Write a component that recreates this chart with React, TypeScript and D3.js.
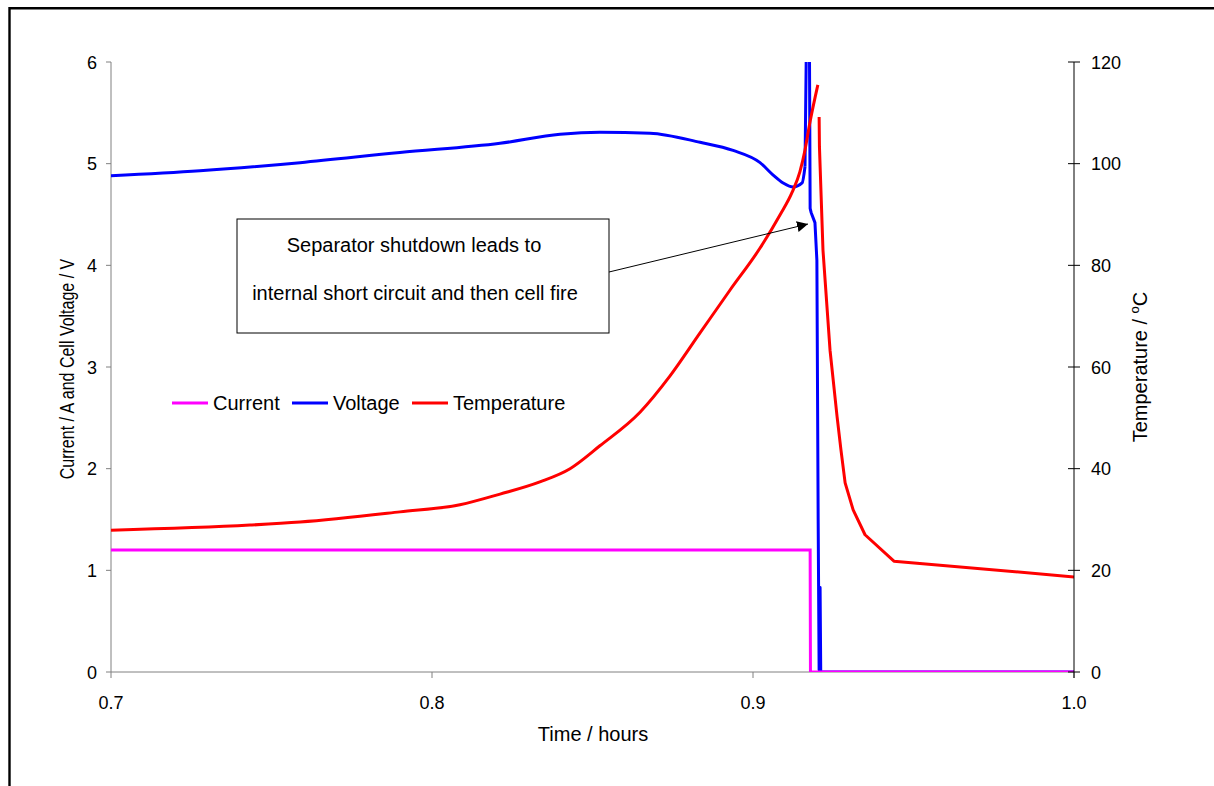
import React from "react";
import * as d3 from "d3";

const xTicks = [0.7, 0.8, 0.9, 1.0];
const yLeftTicks = [0, 1, 2, 3, 4, 5, 6];
const yRightTicks = [0, 20, 40, 60, 80, 100, 120];

const currentT = [0.7, 0.9178, 0.9179, 1.0];
const currentV = [1.2, 1.2, 0, 0];

const voltageT = [0.7, 0.7277, 0.7589, 0.79, 0.8212, 0.8399, 0.8523, 0.8679, 0.8835, 0.8938, 0.9022, 0.9062, 0.9094, 0.9125, 0.9153, 0.9162, 0.9171, 0.9174, 0.9178, 0.9181, 0.9193, 0.9199, 0.9203, 0.9206, 0.9208, 0.9209, 0.9211, 1.0];
const voltageV = [4.88, 4.93, 5.01, 5.11, 5.2, 5.29, 5.31, 5.3, 5.21, 5.13, 5.01, 4.89, 4.81, 4.77, 4.81, 4.97, 7.5, 7.5, 4.56, 4.52, 4.42, 4.05, 1.5, 0.02, 0.83, 0.83, 0.0, 0.0];

// null marks the break in the temperature record
const tempT = [0.7, 0.7433, 0.7589, 0.79, 0.8087, 0.8212, 0.8336, 0.843, 0.8523, 0.8648, 0.8741, 0.8835, 0.8928, 0.9022, 0.9084, 0.9122, 0.9146, 0.9162, 0.9177, 0.9202, 0.9203, 0.9206, 0.9207, 0.9218, 0.924, 0.9262, 0.9274, 0.9287, 0.9312, 0.9349, 0.9439, 1.0];
const tempV = [27.9, 28.9, 29.5, 31.5, 32.9, 35.0, 37.4, 40.0, 44.5, 51.1, 58.2, 66.7, 75.1, 83.4, 89.9, 94.4, 98.4, 102.7, 108.0, 115.5, null, 109.2, 103.3, 83.0, 63.3, 50.2, 43.7, 37.2, 31.9, 27.0, 21.8, 18.7];

const legendItems = ["Current", "Voltage", "Temperature"];
const colors = ["#FF00FF", "#0000FF", "#FF0000"];

const W = 1214;
const H = 786;
const plot = { left: 111, right: 1074, top: 62, bottom: 672 };
const FONT = "Liberation Sans, Arial, sans-serif";

export default function App() {
  const x = d3.scaleLinear().domain([0.7, 1.0]).range([plot.left, plot.right]);
  const yL = d3.scaleLinear().domain([0, 6]).range([plot.bottom, plot.top]);
  const yR = d3.scaleLinear().domain([0, 120]).range([plot.bottom, plot.top]);

  type P = [number, number | null];
  const lineLSmooth = d3
    .line<P>()
    .x((d) => x(d[0]))
    .y((d) => yL(d[1] as number))
    .curve(d3.curveMonotoneX);
  const lineLStraight = d3
    .line<P>()
    .x((d) => x(d[0]))
    .y((d) => yL(d[1] as number));
  const lineRSmooth = d3
    .line<P>()
    .x((d) => x(d[0]))
    .y((d) => yR(d[1] as number))
    .curve(d3.curveMonotoneX);
  const lineRStraight = d3
    .line<P>()
    .x((d) => x(d[0]))
    .y((d) => yR(d[1] as number));

  const cur: P[] = currentT.map((t, i) => [t, currentV[i]]);
  const volt: P[] = voltageT.map((t, i) => [t, voltageV[i]]);
  const temp: P[] = tempT.map((t, i) => [t, tempV[i]]);
  const gap = temp.findIndex((d) => d[1] === null);
  const tempRise = temp.slice(0, gap);
  const tempFall = temp.slice(gap + 1);

  const midY = (plot.top + plot.bottom) / 2;

  return (
    <svg
      width={W}
      height={H}
      style={{ position: "absolute", left: 0, top: 0, background: "#fff" }}
      fontFamily={FONT}
    >
      <rect x={0} y={0} width={W} height={H} fill="#fff" />
      <path d={`M9.5,${H + 5} L9.5,8.2 L${W + 5},8.2`} fill="none" stroke="#000" strokeWidth={2.4} />
      <defs>
        <clipPath id="plotclip">
          <rect x={plot.left} y={plot.top} width={plot.right - plot.left} height={plot.bottom - plot.top} />
        </clipPath>
      </defs>

      {/* left axis */}
      <line x1={plot.left} x2={plot.left} y1={plot.top} y2={plot.bottom} stroke="#808080" strokeWidth={1} />
      {yLeftTicks.map((v) => (
        <g key={"l" + v}>
          <line x1={plot.left - 5} x2={plot.left} y1={yL(v)} y2={yL(v)} stroke="#808080" />
          <text x={plot.left - 14} y={yL(v) + 6.5} textAnchor="end" fontSize={18}>
            {v}
          </text>
        </g>
      ))}

      {/* bottom axis */}
      <line x1={plot.left} x2={plot.right} y1={plot.bottom} y2={plot.bottom} stroke="#808080" strokeWidth={1} />
      {xTicks.map((v) => (
        <g key={"x" + v}>
          <line x1={x(v)} x2={x(v)} y1={plot.bottom} y2={plot.bottom + 6} stroke="#808080" />
          <text x={x(v)} y={709} textAnchor="middle" fontSize={18}>
            {v.toFixed(1)}
          </text>
        </g>
      ))}

      {/* series */}
      <g clipPath="url(#plotclip)">
        <path d={lineLSmooth(volt.slice(0, 16)) || ""} fill="none" stroke={colors[1]} strokeWidth={3} strokeLinejoin="round" />
        <path d={lineLStraight(volt.slice(15)) || ""} fill="none" stroke={colors[1]} strokeWidth={3} strokeLinejoin="round" />
        <path d={lineLStraight(cur) || ""} fill="none" stroke={colors[0]} strokeWidth={3} />
        <path d={lineRSmooth(tempRise) || ""} fill="none" stroke={colors[2]} strokeWidth={3} strokeLinejoin="round" />
        <path d={lineRStraight(tempFall) || ""} fill="none" stroke={colors[2]} strokeWidth={3} strokeLinejoin="round" />
      </g>

      {/* right axis */}
      <line x1={plot.right} x2={plot.right} y1={plot.top} y2={plot.bottom + 6} stroke="#000" strokeWidth={1} />
      {yRightTicks.map((v) => (
        <g key={"r" + v}>
          <line x1={plot.right - 6} x2={plot.right + 6} y1={yR(v)} y2={yR(v)} stroke="#000" />
          <text x={plot.right + 17} y={yR(v) + 6.5} textAnchor="start" fontSize={18}>
            {v}
          </text>
        </g>
      ))}

      {/* axis titles */}
      <text
        transform={`translate(74,${midY + 2}) rotate(-90) scale(1,1.3)`}
        textAnchor="middle"
        fontSize={16}
      >
        Current / A and Cell Voltage / V
      </text>
      <text
        transform={`translate(1147,${midY}) rotate(-90)`}
        textAnchor="middle"
        fontSize={20}
      >
        Temperature / <tspan dy={-8} fontSize={13}>o</tspan>
        <tspan dy={8}>C</tspan>
      </text>
      <text x={593} y={741} textAnchor="middle" fontSize={20}>
        Time / hours
      </text>

      {/* legend */}
      {legendItems.map((name, i) => {
        const lx = [172, 292, 412][i];
        return (
          <g key={name}>
            <line x1={lx} x2={lx + 36} y1={403} y2={403} stroke={colors[i]} strokeWidth={3} />
            <text x={lx + 41} y={410} fontSize={20}>
              {name}
            </text>
          </g>
        );
      })}

      {/* annotation */}
      <rect x={237} y={219} width={372} height={114} fill="#fff" stroke="#000" strokeWidth={1} />
      <text x={414} y={252} textAnchor="middle" fontSize={20}>
        Separator shutdown leads to
      </text>
      <text x={415} y={300} textAnchor="middle" fontSize={20}>
        internal short circuit and then cell fire
      </text>
      <defs>
        <marker id="arrow" viewBox="0 0 10 10" refX={10} refY={5} markerWidth={11} markerHeight={11} markerUnits="userSpaceOnUse" orient="auto">
          <path d="M0,0 L10,5 L0,10 z" fill="#000" />
        </marker>
      </defs>
      <line x1={609} y1={272} x2={808} y2={224} stroke="#000" strokeWidth={1} markerEnd="url(#arrow)" />
    </svg>
  );
}
